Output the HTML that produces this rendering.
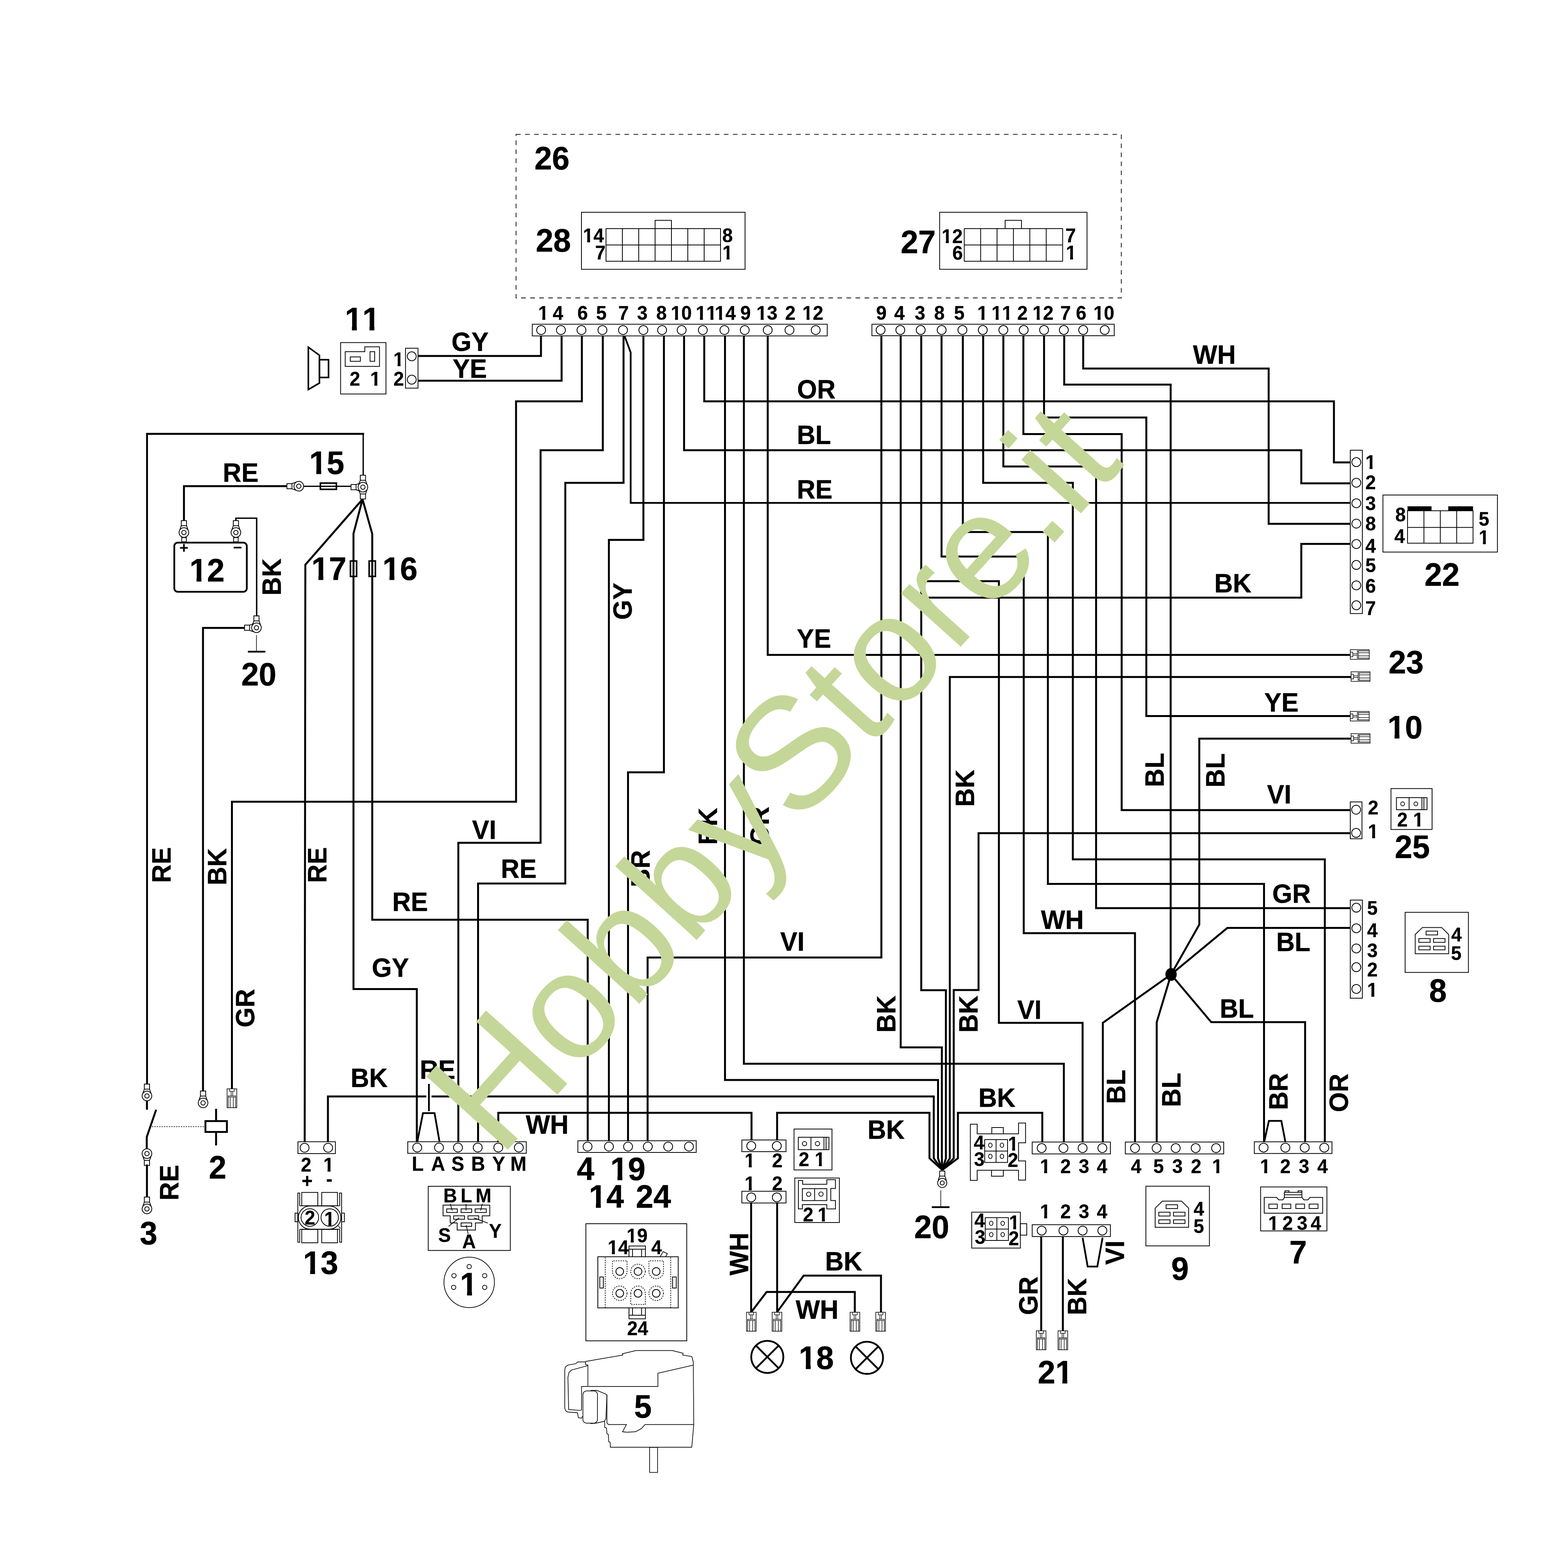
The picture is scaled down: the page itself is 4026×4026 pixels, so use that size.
<!DOCTYPE html>
<html lang="it"><head><meta charset="utf-8"><title>Schema elettrico</title>
<style>
html,body{margin:0;padding:0;background:#fff}
body{width:4026px;height:4026px;overflow:hidden}
svg{display:block}
.w{fill:none;stroke:#000;stroke-width:5;stroke-linejoin:miter;stroke-linecap:butt}
.t{fill:none;stroke:#000;stroke-width:2;stroke-linejoin:miter}
text{font-family:"Liberation Sans",Arial,Helvetica,sans-serif;font-weight:700;font-kerning:none;fill:#000;stroke:#000;stroke-width:0.8;stroke-linejoin:round}
.wm{font-weight:400;fill:#c4d798;stroke:none}
</style></head><body>
<svg width="4026" height="4026" viewBox="0 0 4026 4026">
<defs><clipPath id="k11"><path d="M0 -90H55.6V-13H37.9V6H22.4V-13H0ZM55.6 -90H111.2V-13H93.5V6H78V-13H55.6Z"/></clipPath><clipPath id="k15"><path d="M0 -90H55.6V-13H37.9V6H22.4V-13H0ZM55.6 -90H111.2V30H55.6Z"/></clipPath><clipPath id="k12"><path d="M0 -90H55.6V-13H37.9V6H22.4V-13H0ZM55.6 -90H111.2V30H55.6Z"/></clipPath><clipPath id="k17"><path d="M0 -90H55.6V-13H37.9V6H22.4V-13H0ZM55.6 -90H111.2V30H55.6Z"/></clipPath><clipPath id="k16"><path d="M0 -90H55.6V-13H37.9V6H22.4V-13H0ZM55.6 -90H111.2V30H55.6Z"/></clipPath><clipPath id="k10"><path d="M0 -90H55.6V-13H37.9V6H22.4V-13H0ZM55.6 -90H111.2V30H55.6Z"/></clipPath><clipPath id="k21"><path d="M0 -90H55.6V30H0ZM55.6 -90H111.2V-13H93.5V6H78V-13H55.6Z"/></clipPath><clipPath id="k18"><path d="M0 -90H55.6V-13H37.9V6H22.4V-13H0ZM55.6 -90H111.2V30H55.6Z"/></clipPath><clipPath id="k19"><path d="M0 -90H55.6V-13H37.9V6H22.4V-13H0ZM55.6 -90H111.2V30H55.6Z"/></clipPath><clipPath id="k14"><path d="M0 -90H55.6V-13H37.9V6H22.4V-13H0ZM55.6 -90H111.2V30H55.6Z"/></clipPath><clipPath id="k13"><path d="M0 -90H55.6V-13H37.9V6H22.4V-13H0ZM55.6 -90H111.2V30H55.6Z"/></clipPath><clipPath id="k1"><path d="M0 -90H55.6V-13H37.9V6H22.4V-13H0Z"/></clipPath></defs>
<rect width="4026" height="4026" fill="#fff"/>
<g id="wires">
<polyline class="w" points="1389,862.5 1389,914 1073.3,914"/>
<polyline class="w" points="1442,862.5 1442,977.5 1073.3,977.5"/>
<polyline class="w" points="1494,862.5 1494,1030.4 1325,1030.4 1325,2058.5 595.5,2058.5 595.5,2796"/>
<polyline class="w" points="1547.8,862.5 1547.8,1155.9 1388,1155.9 1388,2164 1176.8,2164 1176.8,2931.5"/>
<polyline class="w" points="1601,862.5 1601,1239.8 1451.5,1239.8 1451.5,2268.5 1227.5,2268.5 1227.5,2931.5"/>
<polyline class="w" points="1603.5,862.5 1619.3,905 1619.3,1291.3 3467,1291.3" style="stroke-width:4.5"/>
<polyline class="w" points="1652,862.5 1652,1386.2 1563.4,1386.2 1563.4,2929"/>
<polyline class="w" points="1704.7,862.5 1704.7,1983 1612.5,1983 1612.5,2929"/>
<polyline class="w" points="1756.4,862.5 1756.4,1155.9 3341.2,1155.9 3341.2,1241 3467,1241"/>
<polyline class="w" points="1808.2,862.5 1808.2,1030.4 3425,1030.4 3425,1187.2 3467,1187.2"/>
<polyline class="w" points="1861.5,862.5 1861.5,2773 2408.5,2773 2408.5,2974 2419.3,3004"/>
<polyline class="w" points="1910,862.5 1910,2731.3 2731.5,2731.3 2731.5,2932.3"/>
<polyline class="w" points="1971.2,862.5 1971.2,1681.5 3467,1681.5"/>
<polyline class="w" points="2263,862 2263,2458.5 1662.8,2458.5 1662.8,2929"/>
<polyline class="w" points="2312.6,862 2312.6,2689.3 2418.3,2689.3 2418.3,2974 2419.3,3004"/>
<polyline class="w" points="2365.4,862 2365.4,2542.5 2428.7,2542.5 2428.7,2974 2419.3,3004"/>
<polyline class="w" points="2417.5,862 2417.5,1429 2628.5,1429 2628.5,2395.9 2914.2,2395.9 2914.2,2932.3"/>
<polyline class="w" points="2472.2,862 2472.2,1366 2690.5,1366 2690.5,2269.5 3245.5,2269.5 3245.5,2931.7"/>
<polyline class="w" points="2524.4,862 2524.4,1239.8 2754.6,1239.8 2754.6,2206.4 3401.6,2206.4 3401.6,2931.7"/>
<polyline class="w" points="2576.2,862 2576.2,1197.8 2814.3,1197.8 2814.3,2331.8 3467,2331.8"/>
<polyline class="w" points="2627.6,862 2627.6,1114.5 2880,1114.5 2880,2080 3467,2080"/>
<polyline class="w" points="2680.7,862 2680.7,1072 2943.3,1072 2943.3,1838.5 3467,1838.5"/>
<polyline class="w" points="2732.5,862 2732.5,987.6 3005.8,987.6 3005.8,2502"/>
<polyline class="w" points="2781.2,862 2781.2,946.3 3257.4,946.3 3257.4,1345 3467,1345"/>
<polyline class="w" points="2365.4,1534.5 3341.2,1534.5 3341.2,1396.5 3467,1396.5"/>
<polyline class="w" points="2365.4,1492.3 2564.8,1492.3 2564.8,2626.2 2779.7,2626.2 2779.7,2932.3"/>
<polyline class="w" points="3469,1738.2 2438.7,1738.2 2438.7,2974 2419.3,3004"/>
<polyline class="w" points="3467,2139.3 2512.5,2139.3 2512.5,2542 2448.8,2542 2448.8,2974 2419.3,3004"/>
<polyline class="w" points="3469,1896.4 3079.3,1896.4 3079.3,2374 3006.8,2502"/>
<polyline class="w" points="3006.8,2502 3151.3,2382.6 3467,2382.6"/>
<polyline class="w" points="3006.8,2502 3110,2624.6 3351,2624.6 3351,2931.7"/>
<polyline class="w" points="3006.8,2502 2970,2624.6 2970,2932.3"/>
<polyline class="w" points="3006.8,2502 2831.6,2626.2 2831.6,2932.3"/>
<ellipse cx="3006.8" cy="2502" rx="14.5" ry="16.5" fill="#000"/>
<polyline class="w" points="2676.2,2932.3 2676.2,2857.3 2459.5,2857.3 2459.5,2974 2419.3,3004"/>
<polyline class="w" points="842,2931.5 842,2815.3 2397.5,2815.3 2397.5,2974 2419.3,3004"/>
<polyline class="w" points="1995.3,2927 1995.3,2857.3 2386.5,2857.3 2386.5,2974 2419.3,3004"/>
<polyline class="w" points="1279.4,2931.5 1279.4,2857.3 1929.6,2857.3 1929.6,2927"/>
<polyline class="w" points="932.6,1116.5 932.6,1114 377.5,1114 377.5,2784" style="stroke-width:4.8"/>
<polyline class="w" points="932.6,1114 932.6,1220" style="stroke-width:3.4"/>
<polyline class="w" points="472.3,1337 472.3,1248.2 737,1248.2"/>
<polyline class="w" points="779.6,1248.6 900.5,1248.6" style="stroke-width:3.2"/>
<polyline class="w" points="605.7,1337 605.7,1330.5 659,1330.5 659,1582.5" style="stroke-width:3.6"/>
<polyline class="w" points="628,1612.3 521.2,1612.3 521.2,2802.5"/>
<polyline class="w" points="930.8,1282 784,1450 782.3,2931.5"/>
<polyline class="w" points="930.8,1282 907.6,1370 907.6,2539.6 1070.2,2539.6 1070.2,2931.5"/>
<polyline class="w" points="930.8,1282 955.8,1371 955.8,2361.5 1509,2361.5 1509,2929"/>
<polyline class="w" points="1071.5,2931.5 1086,2858 1115.8,2858 1128.5,2931.5" style="stroke-width:4.5"/>
<line x1="1101.3" y1="2810.5" x2="1101.3" y2="2820.5" stroke="#fff" stroke-width="13.5"/>
<polyline class="w" points="1101.3,2783 1101.3,2853" style="stroke-width:4.5" stroke-linecap="round"/>
<polyline class="w" points="3246,2931.7 3258,2878 3290,2878 3300.3,2931.7" style="stroke-width:4.5"/>
<polyline class="w" points="2779.7,3178 2792.7,3252 2817.5,3252 2831,3178" style="stroke-width:4.5" stroke-linecap="round" stroke-linejoin="round"/>
<polyline class="w" points="2673.4,3175 2673.4,3417"/>
<polyline class="w" points="2729,3175 2729,3417"/>
<polyline class="w" points="1928.6,3088.8 1928.6,3369.4"/>
<polyline class="w" points="1995.4,3088.8 1995.4,3369.4"/>
<polyline class="w" points="1929.3,3368.4 1968.3,3317.2 2194.8,3317.2 2194.8,3369.4"/>
<polyline class="w" points="1995.6,3368.4 2063.5,3275.2 2262,3275.2 2262,3369.4"/>
<polyline class="w" points="377.3,2826.5 377.3,2849.3" stroke-linecap="round"/>
<polyline class="w" points="400.9,2849.3 376.8,2919.5 376.8,2949" stroke-linecap="round"/>
<polyline class="w" points="377.3,2990 377.3,3074"/>
<polyline class="w" points="554.8,2847 554.8,2876" stroke-linecap="round"/>
<polyline class="w" points="554.8,2909 554.8,2941" stroke-linecap="round"/>
<rect class="t" x="527.5" y="2878.5" width="55.1" height="27.9" style="stroke-width:4.8"/>
<line x1="390" y1="2892.8" x2="525" y2="2892.8" stroke="#000" stroke-width="1.6" stroke-dasharray="3.6,2.6"/>
<rect x="1325" y="344.8" width="1554" height="420.2" fill="none" stroke="#000" stroke-width="1.8" stroke-dasharray="11.8,11.4"/>
<rect class="t" x="1493" y="545" width="420" height="146.5"/>
<rect class="t" x="1556" y="587" width="294" height="83.8"/>
<polyline class="t" points="1556,628.9 1850,628.9"/>
<polyline class="t" points="1598,587 1598,670.8"/>
<polyline class="t" points="1640,587 1640,670.8"/>
<polyline class="t" points="1682,587 1682,670.8"/>
<polyline class="t" points="1724,587 1724,670.8"/>
<polyline class="t" points="1766,587 1766,670.8"/>
<polyline class="t" points="1808,587 1808,670.8"/>
<polyline class="t" points="1682,587 1682,565.7 1724,565.7 1724,587"/>
<rect class="t" x="2412.6" y="545" width="378.4" height="146.5"/>
<rect class="t" x="2475.8" y="587" width="252.6" height="83.8"/>
<polyline class="t" points="2475.8,628.9 2728.4,628.9"/>
<polyline class="t" points="2517.9,587 2517.9,670.8"/>
<polyline class="t" points="2560,587 2560,670.8"/>
<polyline class="t" points="2602.1,587 2602.1,670.8"/>
<polyline class="t" points="2644.2,587 2644.2,670.8"/>
<polyline class="t" points="2686.3,587 2686.3,670.8"/>
<polyline class="t" points="2580.8,587 2580.8,565.7 2622.8,565.7 2622.8,587"/>
<rect class="t" x="1366.7" y="832.5" width="757.3" height="30"/>
<circle class="t" cx="1389.4" cy="847.5" r="11.5"/>
<circle class="t" cx="1440.2" cy="847.5" r="11.5"/>
<circle class="t" cx="1493" cy="847.5" r="11.5"/>
<circle class="t" cx="1546.8" cy="847.5" r="11.5"/>
<circle class="t" cx="1599.6" cy="847.5" r="11.5"/>
<circle class="t" cx="1651.9" cy="847.5" r="11.5"/>
<circle class="t" cx="1700" cy="847.5" r="11.5"/>
<circle class="t" cx="1750.2" cy="847.5" r="11.5"/>
<circle class="t" cx="1804.6" cy="847.5" r="11.5"/>
<circle class="t" cx="1860" cy="847.5" r="11.5"/>
<circle class="t" cx="1912.2" cy="847.5" r="11.5"/>
<circle class="t" cx="1971.2" cy="847.5" r="11.5"/>
<circle class="t" cx="2027.1" cy="847.5" r="11.5"/>
<circle class="t" cx="2094.4" cy="847.5" r="11.5"/>
<rect class="t" x="2238.7" y="832.5" width="622.2" height="29.5"/>
<circle class="t" cx="2261" cy="847.3" r="11.5"/>
<circle class="t" cx="2311.7" cy="847.3" r="11.5"/>
<circle class="t" cx="2364" cy="847.3" r="11.5"/>
<circle class="t" cx="2417.8" cy="847.3" r="11.5"/>
<circle class="t" cx="2471.1" cy="847.3" r="11.5"/>
<circle class="t" cx="2523.4" cy="847.3" r="11.5"/>
<circle class="t" cx="2576.2" cy="847.3" r="11.5"/>
<circle class="t" cx="2628.5" cy="847.3" r="11.5"/>
<circle class="t" cx="2680.7" cy="847.3" r="11.5"/>
<circle class="t" cx="2731.5" cy="847.3" r="11.5"/>
<circle class="t" cx="2781.2" cy="847.3" r="11.5"/>
<circle class="t" cx="2836.5" cy="847.3" r="11.5"/>
<rect class="t" x="3467" y="1156" width="31" height="419.4"/>
<circle class="t" cx="3482.5" cy="1186.6" r="11.5"/>
<circle class="t" cx="3482.5" cy="1239.4" r="11.5"/>
<circle class="t" cx="3482.5" cy="1292.2" r="11.5"/>
<circle class="t" cx="3482.5" cy="1344.5" r="11.5"/>
<circle class="t" cx="3482.5" cy="1396.8" r="11.5"/>
<circle class="t" cx="3482.5" cy="1450.6" r="11.5"/>
<circle class="t" cx="3482.5" cy="1502.9" r="11.5"/>
<circle class="t" cx="3482.5" cy="1554.1" r="11.5"/>
<rect class="t" x="3467" y="2059" width="30" height="94.6"/>
<circle class="t" cx="3482" cy="2079" r="11.5"/>
<circle class="t" cx="3482" cy="2138.6" r="11.5"/>
<rect class="t" x="3467" y="2311" width="31" height="252"/>
<circle class="t" cx="3482.5" cy="2330.6" r="11.5"/>
<circle class="t" cx="3482.5" cy="2383.4" r="11.5"/>
<circle class="t" cx="3482.5" cy="2435.2" r="11.5"/>
<circle class="t" cx="3482.5" cy="2483.3" r="11.5"/>
<circle class="t" cx="3482.5" cy="2539.2" r="11.5"/>
<rect class="t" x="765" y="2931.5" width="96.2" height="30.5"/>
<circle class="t" cx="782" cy="2947" r="11.5"/>
<circle class="t" cx="842.5" cy="2947" r="11.5"/>
<rect class="t" x="1047" y="2931.5" width="304.3" height="29.8"/>
<circle class="t" cx="1071.3" cy="2946.5" r="11.5"/>
<circle class="t" cx="1127.2" cy="2946.5" r="11.5"/>
<circle class="t" cx="1175.9" cy="2946.5" r="11.5"/>
<circle class="t" cx="1226.6" cy="2946.5" r="11.5"/>
<circle class="t" cx="1279.4" cy="2946.5" r="11.5"/>
<circle class="t" cx="1332.2" cy="2946.5" r="11.5"/>
<rect class="t" x="1483.7" y="2929" width="303.9" height="30"/>
<circle class="t" cx="1508.6" cy="2944" r="11.5"/>
<circle class="t" cx="1563.5" cy="2944" r="11.5"/>
<circle class="t" cx="1612.6" cy="2944" r="11.5"/>
<circle class="t" cx="1663.4" cy="2944" r="11.5"/>
<circle class="t" cx="1715.6" cy="2944" r="11.5"/>
<circle class="t" cx="1769" cy="2944" r="11.5"/>
<rect class="t" x="1904.8" y="2927" width="113.4" height="30"/>
<circle class="t" cx="1928.9" cy="2942.3" r="11.5"/>
<circle class="t" cx="1994.6" cy="2942.3" r="11.5"/>
<rect class="t" x="1904.8" y="3058.7" width="113.4" height="30.1"/>
<circle class="t" cx="1928.9" cy="3074.4" r="11.5"/>
<circle class="t" cx="1994.6" cy="3074.4" r="11.5"/>
<rect class="t" x="2650.3" y="2932.3" width="200.7" height="30.5"/>
<circle class="t" cx="2674.6" cy="2947.8" r="11.5"/>
<circle class="t" cx="2730.5" cy="2947.8" r="11.5"/>
<circle class="t" cx="2779.7" cy="2947.8" r="11.5"/>
<circle class="t" cx="2830.4" cy="2947.8" r="11.5"/>
<rect class="t" x="2650.3" y="3144.5" width="200.7" height="30.5"/>
<circle class="t" cx="2674.6" cy="3159.7" r="11.5"/>
<circle class="t" cx="2730.5" cy="3159.7" r="11.5"/>
<circle class="t" cx="2779.7" cy="3159.7" r="11.5"/>
<circle class="t" cx="2830.4" cy="3159.7" r="11.5"/>
<rect class="t" x="2889.4" y="2932.3" width="252.6" height="30.5"/>
<circle class="t" cx="2914.3" cy="2947.8" r="11.5"/>
<circle class="t" cx="2969.7" cy="2947.8" r="11.5"/>
<circle class="t" cx="3018.8" cy="2947.8" r="11.5"/>
<circle class="t" cx="3070" cy="2947.8" r="11.5"/>
<circle class="t" cx="3122.4" cy="2947.8" r="11.5"/>
<rect class="t" x="3220.6" y="2931.7" width="199.4" height="30"/>
<circle class="t" cx="3244.4" cy="2946.7" r="11.5"/>
<circle class="t" cx="3300.3" cy="2946.7" r="11.5"/>
<circle class="t" cx="3350" cy="2946.7" r="11.5"/>
<circle class="t" cx="3400.2" cy="2946.7" r="11.5"/>
<rect class="t" x="1041.2" y="894.1" width="32.1" height="102.5"/>
<circle class="t" cx="1057.2" cy="914.8" r="11.5"/>
<circle class="t" cx="1057.2" cy="974.8" r="11.5"/>
<rect class="t" x="874.5" y="879.6" width="116.5" height="132"/>
<polygon class="t" points="886.4,902.9 936.6,902.9 936.6,890.5 974.4,890.5 974.4,940.7 886.4,940.7"/>
<rect class="t" x="899.4" y="916.4" width="25.9" height="11.3"/>
<rect class="t" x="950.1" y="902.9" width="11.9" height="24.8"/>
<polygon class="t" points="791.7,891.5 820.2,912.2 820.2,983.6 791.7,1000.2" style="stroke-width:4"/>
<rect class="t" x="820.2" y="923.6" width="23.3" height="45.6" style="stroke-width:4"/>
<rect class="t" x="3550.8" y="1271" width="294" height="146.5"/>
<rect class="t" x="3614" y="1311.4" width="168.2" height="83.3"/>
<polyline class="t" points="3614,1354.3 3782.2,1354.3"/>
<polyline class="t" points="3656.1,1311.4 3656.1,1394.7"/>
<polyline class="t" points="3698.1,1311.4 3698.1,1394.7"/>
<polyline class="t" points="3740.2,1311.4 3740.2,1394.7"/>
<rect x="3614" y="1300" width="61.6" height="11.4" fill="#000"/>
<rect x="3718.5" y="1300" width="63.7" height="11.4" fill="#000"/>
<rect class="t" x="3467" y="1668.2" width="48.6" height="24.6" style="stroke-width:1.6" fill="#fff"/>
<polyline class="t" points="3467,1674.5 3473.5,1674.5 3473.5,1686.5 3467,1686.5" style="stroke-width:1.4"/>
<polyline class="t" points="3473.5,1678.5 3485,1678.5" style="stroke-width:1.4"/>
<polyline class="t" points="3473.5,1682.5 3485,1682.5" style="stroke-width:1.4"/>
<polyline class="t" points="3515.6,1671.2 3485,1671.2 3485,1689.8 3515.6,1689.8" style="stroke-width:1.4"/>
<polyline class="t" points="3488,1671.2 3488,1689.8" style="stroke-width:1.4"/>
<polyline class="t" points="3488,1676 3515.6,1676" style="stroke-width:1.4"/>
<polyline class="t" points="3488,1684 3515.6,1684" style="stroke-width:1.4"/>
<rect class="t" x="3467" y="1826.7" width="48.6" height="24.6" style="stroke-width:1.6" fill="#fff"/>
<polyline class="t" points="3467,1833 3473.5,1833 3473.5,1845 3467,1845" style="stroke-width:1.4"/>
<polyline class="t" points="3473.5,1837 3485,1837" style="stroke-width:1.4"/>
<polyline class="t" points="3473.5,1841 3485,1841" style="stroke-width:1.4"/>
<polyline class="t" points="3515.6,1829.7 3485,1829.7 3485,1848.3 3515.6,1848.3" style="stroke-width:1.4"/>
<polyline class="t" points="3488,1829.7 3488,1848.3" style="stroke-width:1.4"/>
<polyline class="t" points="3488,1834.5 3515.6,1834.5" style="stroke-width:1.4"/>
<polyline class="t" points="3488,1842.5 3515.6,1842.5" style="stroke-width:1.4"/>
<rect class="t" x="3469" y="1724.9" width="48.6" height="24.6" style="stroke-width:1.6" fill="#fff"/>
<polyline class="t" points="3469,1731.2 3475.5,1731.2 3475.5,1743.2 3469,1743.2" style="stroke-width:1.4"/>
<polyline class="t" points="3475.5,1735.2 3487,1735.2" style="stroke-width:1.4"/>
<polyline class="t" points="3475.5,1739.2 3487,1739.2" style="stroke-width:1.4"/>
<polyline class="t" points="3517.6,1727.9 3487,1727.9 3487,1746.5 3517.6,1746.5" style="stroke-width:1.4"/>
<polyline class="t" points="3490,1727.9 3490,1746.5" style="stroke-width:1.4"/>
<polyline class="t" points="3490,1732.7 3517.6,1732.7" style="stroke-width:1.4"/>
<polyline class="t" points="3490,1740.7 3517.6,1740.7" style="stroke-width:1.4"/>
<rect class="t" x="3469" y="1883.7" width="48.6" height="24.6" style="stroke-width:1.6" fill="#fff"/>
<polyline class="t" points="3469,1890 3475.5,1890 3475.5,1902 3469,1902" style="stroke-width:1.4"/>
<polyline class="t" points="3475.5,1894 3487,1894" style="stroke-width:1.4"/>
<polyline class="t" points="3475.5,1898 3487,1898" style="stroke-width:1.4"/>
<polyline class="t" points="3517.6,1886.7 3487,1886.7 3487,1905.3 3517.6,1905.3" style="stroke-width:1.4"/>
<polyline class="t" points="3490,1886.7 3490,1905.3" style="stroke-width:1.4"/>
<polyline class="t" points="3490,1891.5 3517.6,1891.5" style="stroke-width:1.4"/>
<polyline class="t" points="3490,1899.5 3517.6,1899.5" style="stroke-width:1.4"/>
<rect class="t" x="3571.5" y="2024.7" width="105.5" height="105.1"/>
<rect class="t" x="3585.5" y="2048" width="78.5" height="31"/>
<polyline class="t" points="3618,2048 3618,2079"/>
<polyline class="t" points="3651,2048 3651,2079"/>
<polyline class="t" points="3656,2048 3656,2079"/>
<circle class="t" cx="3601.5" cy="2064" r="5" style="stroke-width:1.8"/>
<circle class="t" cx="3635.3" cy="2064" r="5" style="stroke-width:1.8"/>
<rect class="t" x="3607.8" y="2342.5" width="162.5" height="154.3"/>
<polygon class="t" points="3652.3,2381.4 3701.5,2381.4 3719.6,2399.5 3719.6,2448.7 3633.7,2448.7 3633.7,2399.5"/>
<rect class="t" x="3661.6" y="2390.7" width="29.5" height="9.8"/>
<rect class="t" x="3643" y="2409.8" width="29" height="9.8"/>
<rect class="t" x="3680.8" y="2409.8" width="29.5" height="9.8"/>
<rect class="t" x="3643" y="2429.5" width="29" height="9.3"/>
<rect class="t" x="3680.8" y="2429.5" width="29.5" height="9.3"/>
<rect class="t" x="2942.2" y="3045.7" width="163.1" height="153.2"/>
<polygon class="t" points="2984.6,3084 3033.8,3084 3051.9,3102.1 3051.9,3151.3 2966,3151.3 2966,3102.1"/>
<rect class="t" x="2994" y="3093.3" width="29.5" height="9.8"/>
<rect class="t" x="2975.3" y="3112.5" width="29" height="9.8"/>
<rect class="t" x="3013.1" y="3112.5" width="29.5" height="9.8"/>
<rect class="t" x="2975.3" y="3132.1" width="29" height="9.3"/>
<rect class="t" x="3013.1" y="3132.1" width="29.5" height="9.3"/>
<rect class="t" x="3236.7" y="3047.6" width="170.3" height="112.9"/>
<polygon class="t" points="3246,3074.5 3278.1,3074.5 3283.2,3080.7 3294.1,3080.7 3297.7,3074.5 3297.7,3061.6 3342.8,3061.6 3342.8,3074.5 3347.9,3080.7 3358.3,3080.7 3363.5,3074.5 3396.1,3074.5 3396.1,3114.9 3246,3114.9"/>
<polyline class="t" points="3299.3,3061.6 3299.3,3057.5 3309.6,3057.5 3309.6,3061.6"/>
<polyline class="t" points="3332.9,3061.6 3332.9,3057.5 3342.8,3057.5 3342.8,3061.6"/>
<polyline class="t" points="3297.7,3067.8 3342.8,3067.8"/>
<polyline class="t" points="3297.7,3074.5 3342.8,3074.5"/>
<rect class="t" x="3257.9" y="3091.6" width="21.7" height="11.4"/>
<rect class="t" x="3292" y="3091.6" width="22.3" height="11.4"/>
<rect class="t" x="3327.2" y="3091.6" width="22.3" height="11.4"/>
<rect class="t" x="3361.4" y="3091.6" width="22.8" height="11.4"/>
<rect class="t" x="2038.7" y="2898.9" width="97.5" height="105"/>
<rect class="t" x="2049.7" y="2920" width="78.7" height="31.9"/>
<polyline class="t" points="2082.2,2920 2082.2,2951.9"/>
<polyline class="t" points="2115.6,2920 2115.6,2951.9"/>
<polyline class="t" points="2121,2920 2121,2951.9"/>
<circle class="t" cx="2065.6" cy="2936.4" r="5.6" style="stroke-width:1.8"/>
<circle class="t" cx="2099" cy="2936.4" r="5.6" style="stroke-width:1.8"/>
<rect class="t" x="2040.7" y="3024.7" width="114.5" height="114.3"/>
<polygon class="t" points="2050,3030.9 2060.9,3030.9 2060.9,3040.7 2123,3040.7 2123,3029.1 2145.1,3029.1 2145.1,3051.6 2133.1,3051.6 2133.1,3082.6 2145.1,3082.6 2145.1,3103.9 2123,3103.9 2123,3093 2060.1,3093 2060.1,3103.9 2050,3103.9"/>
<rect class="t" x="2060.1" y="3052" width="62.9" height="30.6"/>
<polyline class="t" points="2091.6,3052 2091.6,3082.6"/>
<circle class="t" cx="2076.4" cy="3066.3" r="5.6" style="stroke-width:1.8"/>
<circle class="t" cx="2108" cy="3066" r="5.6" style="stroke-width:1.8"/>
<polygon class="t" points="2491.5,2886.4 2509,2886.4 2509,2911.3 2615.2,2911.3 2615.2,2883.6 2633.2,2883.6 2633.2,2934.2 2615.2,2934.2 2615.2,2980.7 2633.2,2980.7 2633.2,3030.1 2615.2,3030.1 2615.2,3004.7 2509,3004.7 2509,3030.8 2491.5,3030.8"/>
<polyline class="t" points="2546.5,2911.3 2546.5,2895 2576.1,2895 2576.1,2911.3"/>
<polyline class="t" points="2545.8,3004.7 2545.8,3019.9 2576.1,3019.9 2576.1,3004.7"/>
<rect class="t" x="2528.3" y="2926" width="58.7" height="58.7"/>
<polyline class="t" points="2557.5,2926 2557.5,2984.7"/>
<polyline class="t" points="2528.3,2955.6 2587,2955.6"/>
<ellipse class="t" cx="2542.8" cy="2940.5" rx="4.6" ry="5.6" style="stroke-width:1.8"/>
<ellipse class="t" cx="2572.6" cy="2940.5" rx="4.6" ry="5.6" style="stroke-width:1.8"/>
<ellipse class="t" cx="2542.8" cy="2969.1" rx="4.6" ry="5.6" style="stroke-width:1.8"/>
<ellipse class="t" cx="2572.6" cy="2969.1" rx="4.6" ry="5.6" style="stroke-width:1.8"/>
<rect class="t" x="2495" y="3112.4" width="124.8" height="92.2"/>
<rect class="t" x="2619.8" y="3142" width="16.5" height="29.4"/>
<rect class="t" x="2529.7" y="3126.4" width="59.5" height="58.6"/>
<polyline class="t" points="2559.5,3126.4 2559.5,3185"/>
<polyline class="t" points="2529.7,3155.7 2589.2,3155.7"/>
<ellipse class="t" cx="2545" cy="3141" rx="4.6" ry="5.6" style="stroke-width:1.8"/>
<ellipse class="t" cx="2574.5" cy="3141" rx="4.6" ry="5.6" style="stroke-width:1.8"/>
<ellipse class="t" cx="2545" cy="3170" rx="4.6" ry="5.6" style="stroke-width:1.8"/>
<ellipse class="t" cx="2574.5" cy="3170" rx="4.6" ry="5.6" style="stroke-width:1.8"/>
<polygon class="t" points="2412.6,3006.8 2426,3006.8 2426,3019.8 2412.6,3019.8" fill="#fff"/>
<polyline class="t" points="2412.6,3019.8 2408.8,3030.3"/>
<polyline class="t" points="2426,3019.8 2429.8,3030.3"/>
<circle class="t" cx="2419.3" cy="3037.3" r="11.8" fill="#fff"/>
<circle class="t" cx="2419.3" cy="3037.3" r="5.2"/>
<polyline class="t" points="2415.5,3056.5 2415.5,3098" style="stroke-width:1.6"/>
<polyline class="w" points="2392.5,3099.5 2438,3099.5" style="stroke-width:4.5"/>
<polygon class="t" points="651.8,1581.3 665.2,1581.3 665.2,1594.3 651.8,1594.3" fill="#fff"/>
<polyline class="t" points="651.8,1594.3 648,1604.8"/>
<polyline class="t" points="665.2,1594.3 669,1604.8"/>
<polygon class="t" points="628,1618.5 628,1605.1 641,1605.1 641,1618.5" fill="#fff"/>
<polyline class="t" points="641,1618.5 651.5,1622.3"/>
<polyline class="t" points="641,1605.1 651.5,1601.3"/>
<circle class="t" cx="658.5" cy="1611.8" r="12.4" fill="#fff"/>
<circle class="t" cx="658.5" cy="1611.8" r="5.6"/>
<polyline class="t" points="658.5,1630.5 658.5,1671" style="stroke-width:1.6"/>
<polyline class="w" points="636.5,1673.2 681.5,1673.2" style="stroke-width:4.5"/>
<rect x="447.5" y="1393.2" width="186.2" height="126.4" rx="9" ry="9" fill="none" stroke="#000" stroke-width="4.5"/>
<rect class="t" x="466.6" y="1380.3" width="11.8" height="10.9"/>
<rect class="t" x="599.8" y="1380.3" width="11.8" height="10.9"/>
<polygon class="t" points="465.5,1336.8 478.9,1336.8 478.9,1349.8 465.5,1349.8" fill="#fff"/>
<polyline class="t" points="465.5,1349.8 461.7,1360.3"/>
<polyline class="t" points="478.9,1349.8 482.7,1360.3"/>
<circle class="t" cx="472.2" cy="1367.3" r="12.4" fill="#fff"/>
<circle class="t" cx="472.2" cy="1367.3" r="5.6"/>
<polygon class="t" points="599,1336.8 612.4,1336.8 612.4,1349.8 599,1349.8" fill="#fff"/>
<polyline class="t" points="599,1349.8 595.2,1360.3"/>
<polyline class="t" points="612.4,1349.8 616.2,1360.3"/>
<circle class="t" cx="605.7" cy="1367.3" r="12.4" fill="#fff"/>
<circle class="t" cx="605.7" cy="1367.3" r="5.6"/>
<polyline class="w" points="462.3,1406.7 482.3,1406.7" style="stroke-width:4.2"/>
<polyline class="w" points="472.3,1396.7 472.3,1416.7" style="stroke-width:4.2"/>
<polyline class="w" points="600,1406 620,1406" style="stroke-width:4.2"/>
<polygon class="t" points="736.7,1255.1 736.7,1241.7 749.7,1241.7 749.7,1255.1" fill="#fff"/>
<polyline class="t" points="749.7,1255.1 760.2,1258.9"/>
<polyline class="t" points="749.7,1241.7 760.2,1237.9"/>
<circle class="t" cx="767.2" cy="1248.4" r="12.4" fill="#fff"/>
<circle class="t" cx="767.2" cy="1248.4" r="5.6"/>
<rect class="t" x="822.6" y="1240.4" width="41.1" height="16" style="stroke-width:4" fill="#fff"/>
<polyline class="w" points="822,1248.6 864,1248.6" style="stroke-width:2.4"/>
<polygon class="t" points="925.1,1220.3 938.5,1220.3 938.5,1233.3 925.1,1233.3" fill="#fff"/>
<polyline class="t" points="925.1,1233.3 921.3,1243.8"/>
<polyline class="t" points="938.5,1233.3 942.3,1243.8"/>
<polygon class="t" points="901.3,1257.5 901.3,1244.1 914.3,1244.1 914.3,1257.5" fill="#fff"/>
<polyline class="t" points="914.3,1257.5 924.8,1261.3"/>
<polyline class="t" points="914.3,1244.1 924.8,1240.3"/>
<polygon class="t" points="938.5,1281.3 925.1,1281.3 925.1,1268.3 938.5,1268.3" fill="#fff"/>
<polyline class="t" points="938.5,1268.3 942.3,1257.8"/>
<polyline class="t" points="925.1,1268.3 921.3,1257.8"/>
<circle class="t" cx="931.8" cy="1250.8" r="12.4" fill="#fff"/>
<circle class="t" cx="931.8" cy="1250.8" r="5.6"/>
<rect class="t" x="899.8" y="1440.4" width="15.8" height="39.6" style="stroke-width:4" fill="#fff"/>
<polyline class="w" points="907.6,1440 907.6,1481" style="stroke-width:2.4"/>
<rect class="t" x="947.8" y="1440.4" width="16" height="39.6" style="stroke-width:4" fill="#fff"/>
<polyline class="w" points="955.8,1440 955.8,1481" style="stroke-width:2.4"/>
<polygon class="t" points="370.6,2783.5 384,2783.5 384,2796.5 370.6,2796.5" fill="#fff"/>
<polyline class="t" points="370.6,2796.5 366.8,2807"/>
<polyline class="t" points="384,2796.5 387.8,2807"/>
<circle class="t" cx="377.3" cy="2814" r="12.4" fill="#fff"/>
<circle class="t" cx="377.3" cy="2814" r="5.6"/>
<polygon class="t" points="384,2992.4 370.6,2992.4 370.6,2979.4 384,2979.4" fill="#fff"/>
<polyline class="t" points="384,2979.4 387.8,2968.9"/>
<polyline class="t" points="370.6,2979.4 366.8,2968.9"/>
<circle class="t" cx="377.3" cy="2961.9" r="12.4" fill="#fff"/>
<circle class="t" cx="377.3" cy="2961.9" r="5.6"/>
<polygon class="t" points="370.6,3073.5 384,3073.5 384,3086.5 370.6,3086.5" fill="#fff"/>
<polyline class="t" points="370.6,3086.5 366.8,3097"/>
<polyline class="t" points="384,3086.5 387.8,3097"/>
<circle class="t" cx="377.3" cy="3104" r="12.4" fill="#fff"/>
<circle class="t" cx="377.3" cy="3104" r="5.6"/>
<polygon class="t" points="514.7,2801.3 528.1,2801.3 528.1,2814.3 514.7,2814.3" fill="#fff"/>
<polyline class="t" points="514.7,2814.3 510.9,2824.8"/>
<polyline class="t" points="528.1,2814.3 531.9,2824.8"/>
<circle class="t" cx="521.4" cy="2831.8" r="12.4" fill="#fff"/>
<circle class="t" cx="521.4" cy="2831.8" r="5.6"/>
<rect class="t" x="583.1" y="2795.6" width="24.8" height="48.6" style="stroke-width:1.6" fill="#fff"/>
<polyline class="t" points="589.5,2795.6 589.5,2802.1 601.5,2802.1 601.5,2795.6" style="stroke-width:1.4"/>
<polyline class="t" points="593.5,2802.1 593.5,2813.6" style="stroke-width:1.4"/>
<polyline class="t" points="597.5,2802.1 597.5,2813.6" style="stroke-width:1.4"/>
<polyline class="t" points="586.1,2844.2 586.1,2813.6 604.9,2813.6 604.9,2844.2" style="stroke-width:1.4"/>
<polyline class="t" points="586.1,2816.6 604.9,2816.6" style="stroke-width:1.4"/>
<polyline class="t" points="591,2816.6 591,2844.2" style="stroke-width:1.4"/>
<polyline class="t" points="599,2816.6 599,2844.2" style="stroke-width:1.4"/>
<rect class="t" x="2660.8" y="3417" width="24.8" height="48.6" style="stroke-width:1.6" fill="#fff"/>
<polyline class="t" points="2667.2,3417 2667.2,3423.5 2679.2,3423.5 2679.2,3417" style="stroke-width:1.4"/>
<polyline class="t" points="2671.2,3423.5 2671.2,3435" style="stroke-width:1.4"/>
<polyline class="t" points="2675.2,3423.5 2675.2,3435" style="stroke-width:1.4"/>
<polyline class="t" points="2663.8,3465.6 2663.8,3435 2682.6,3435 2682.6,3465.6" style="stroke-width:1.4"/>
<polyline class="t" points="2663.8,3438 2682.6,3438" style="stroke-width:1.4"/>
<polyline class="t" points="2668.7,3438 2668.7,3465.6" style="stroke-width:1.4"/>
<polyline class="t" points="2676.7,3438 2676.7,3465.6" style="stroke-width:1.4"/>
<rect class="t" x="2716.6" y="3417" width="24.8" height="48.6" style="stroke-width:1.6" fill="#fff"/>
<polyline class="t" points="2723,3417 2723,3423.5 2735,3423.5 2735,3417" style="stroke-width:1.4"/>
<polyline class="t" points="2727,3423.5 2727,3435" style="stroke-width:1.4"/>
<polyline class="t" points="2731,3423.5 2731,3435" style="stroke-width:1.4"/>
<polyline class="t" points="2719.6,3465.6 2719.6,3435 2738.4,3435 2738.4,3465.6" style="stroke-width:1.4"/>
<polyline class="t" points="2719.6,3438 2738.4,3438" style="stroke-width:1.4"/>
<polyline class="t" points="2724.5,3438 2724.5,3465.6" style="stroke-width:1.4"/>
<polyline class="t" points="2732.5,3438 2732.5,3465.6" style="stroke-width:1.4"/>
<rect class="t" x="1916.7" y="3369.4" width="24.8" height="48.6" style="stroke-width:1.6" fill="#fff"/>
<polyline class="t" points="1923.1,3369.4 1923.1,3375.9 1935.1,3375.9 1935.1,3369.4" style="stroke-width:1.4"/>
<polyline class="t" points="1927.1,3375.9 1927.1,3387.4" style="stroke-width:1.4"/>
<polyline class="t" points="1931.1,3375.9 1931.1,3387.4" style="stroke-width:1.4"/>
<polyline class="t" points="1919.7,3418 1919.7,3387.4 1938.5,3387.4 1938.5,3418" style="stroke-width:1.4"/>
<polyline class="t" points="1919.7,3390.4 1938.5,3390.4" style="stroke-width:1.4"/>
<polyline class="t" points="1924.6,3390.4 1924.6,3418" style="stroke-width:1.4"/>
<polyline class="t" points="1932.6,3390.4 1932.6,3418" style="stroke-width:1.4"/>
<rect class="t" x="1982.6" y="3369.4" width="24.8" height="48.6" style="stroke-width:1.6" fill="#fff"/>
<polyline class="t" points="1989,3369.4 1989,3375.9 2001,3375.9 2001,3369.4" style="stroke-width:1.4"/>
<polyline class="t" points="1993,3375.9 1993,3387.4" style="stroke-width:1.4"/>
<polyline class="t" points="1997,3375.9 1997,3387.4" style="stroke-width:1.4"/>
<polyline class="t" points="1985.6,3418 1985.6,3387.4 2004.4,3387.4 2004.4,3418" style="stroke-width:1.4"/>
<polyline class="t" points="1985.6,3390.4 2004.4,3390.4" style="stroke-width:1.4"/>
<polyline class="t" points="1990.5,3390.4 1990.5,3418" style="stroke-width:1.4"/>
<polyline class="t" points="1998.5,3390.4 1998.5,3418" style="stroke-width:1.4"/>
<rect class="t" x="2182.7" y="3369.4" width="24.8" height="48.6" style="stroke-width:1.6" fill="#fff"/>
<polyline class="t" points="2189.1,3369.4 2189.1,3375.9 2201.1,3375.9 2201.1,3369.4" style="stroke-width:1.4"/>
<polyline class="t" points="2193.1,3375.9 2193.1,3387.4" style="stroke-width:1.4"/>
<polyline class="t" points="2197.1,3375.9 2197.1,3387.4" style="stroke-width:1.4"/>
<polyline class="t" points="2185.7,3418 2185.7,3387.4 2204.5,3387.4 2204.5,3418" style="stroke-width:1.4"/>
<polyline class="t" points="2185.7,3390.4 2204.5,3390.4" style="stroke-width:1.4"/>
<polyline class="t" points="2190.6,3390.4 2190.6,3418" style="stroke-width:1.4"/>
<polyline class="t" points="2198.6,3390.4 2198.6,3418" style="stroke-width:1.4"/>
<rect class="t" x="2248.7" y="3369.4" width="24.8" height="48.6" style="stroke-width:1.6" fill="#fff"/>
<polyline class="t" points="2255.1,3369.4 2255.1,3375.9 2267.1,3375.9 2267.1,3369.4" style="stroke-width:1.4"/>
<polyline class="t" points="2259.1,3375.9 2259.1,3387.4" style="stroke-width:1.4"/>
<polyline class="t" points="2263.1,3375.9 2263.1,3387.4" style="stroke-width:1.4"/>
<polyline class="t" points="2251.7,3418 2251.7,3387.4 2270.5,3387.4 2270.5,3418" style="stroke-width:1.4"/>
<polyline class="t" points="2251.7,3390.4 2270.5,3390.4" style="stroke-width:1.4"/>
<polyline class="t" points="2256.6,3390.4 2256.6,3418" style="stroke-width:1.4"/>
<polyline class="t" points="2264.6,3390.4 2264.6,3418" style="stroke-width:1.4"/>
<circle class="t" cx="1970.1" cy="3484" r="41.3" style="stroke-width:4.6"/>
<polyline class="w" points="1940.9,3454.8 1999.3,3513.2" style="stroke-width:4.6"/>
<polyline class="w" points="1940.9,3513.2 1999.3,3454.8" style="stroke-width:4.6"/>
<circle class="t" cx="2226" cy="3486.3" r="41.3" style="stroke-width:4.6"/>
<polyline class="w" points="2196.8,3457.1 2255.2,3515.5" style="stroke-width:4.6"/>
<polyline class="w" points="2196.8,3515.5 2255.2,3457.1" style="stroke-width:4.6"/>
<rect class="t" x="774.7" y="3061.7" width="41.3" height="34.2"/>
<rect class="t" x="826.1" y="3061.7" width="40.4" height="34.2"/>
<rect class="t" x="774.7" y="3156.4" width="41.3" height="34.6"/>
<rect class="t" x="826.1" y="3156.4" width="40.4" height="34.6"/>
<polyline class="t" points="769.4,3095.9 769.4,3063.3 764.7,3063.3 764.7,3189.5 769.4,3189.5 769.4,3156.4"/>
<polyline class="t" points="872.2,3095.9 872.2,3063.3 877.1,3063.3 877.1,3189.5 872.2,3189.5 872.2,3156.4"/>
<polyline class="t" points="769.4,3095.9 872.2,3095.9"/>
<polyline class="t" points="769.4,3156.4 872.2,3156.4"/>
<rect class="t" x="757.6" y="3114.8" width="7.1" height="22.2"/>
<rect class="t" x="877.1" y="3114.8" width="7.1" height="22.2"/>
<rect class="t" x="766.1" y="3096.6" width="109.2" height="59.3" rx="29.7" ry="29.7"/>
<circle class="t" cx="795.6" cy="3126.1" r="22.6"/>
<circle class="t" cx="846.6" cy="3126.1" r="22.4"/>
<polyline class="t" points="867.5,3146.3 873.7,3153.3 871.4,3154.1" style="stroke-width:1.6"/>
<rect class="t" x="1099.6" y="3045.9" width="210.7" height="164.8"/>
<polygon class="t" points="1137.6,3094.2 1257.5,3094.2 1257.5,3121.7 1238.1,3121.7 1238.1,3139.9 1220.7,3139.9 1220.7,3158.2 1173.8,3158.2 1173.8,3139.9 1156,3139.9 1156,3121.7 1137.6,3121.7"/>
<rect class="t" x="1147" y="3103.9" width="27.2" height="9.3"/>
<rect class="t" x="1183.8" y="3103.9" width="27.3" height="9.3"/>
<rect class="t" x="1219.9" y="3103.9" width="28.7" height="9.3"/>
<rect class="t" x="1164.8" y="3121.7" width="28" height="8.9"/>
<rect class="t" x="1201.6" y="3121.7" width="27.6" height="8.9"/>
<rect class="t" x="1183.8" y="3139.9" width="27.3" height="9"/>
<polyline class="t" points="1156,3090.7 1161.2,3108.5" style="stroke-width:1.8"/>
<polyline class="t" points="1196.6,3090.7 1196.6,3108.5" style="stroke-width:1.8"/>
<polyline class="t" points="1238.1,3090.7 1233.9,3108.5" style="stroke-width:1.8"/>
<polyline class="t" points="1179.3,3126.8 1151.6,3148.9" style="stroke-width:1.8"/>
<polyline class="t" points="1216.8,3126.8 1252.5,3140.3" style="stroke-width:1.8"/>
<polyline class="t" points="1197,3145.5 1202.1,3168.3" style="stroke-width:1.8"/>
<circle class="t" cx="1204.7" cy="3292.6" r="64.8" style="stroke-width:1.8"/>
<circle class="t" cx="1204.7" cy="3252.1" r="5.6" style="stroke-width:1.8"/>
<circle class="t" cx="1165.6" cy="3275.4" r="5.6" style="stroke-width:1.8"/>
<circle class="t" cx="1244.5" cy="3275.4" r="5.6" style="stroke-width:1.8"/>
<circle class="t" cx="1164.8" cy="3305.4" r="5.6" style="stroke-width:1.8"/>
<circle class="t" cx="1244.5" cy="3305.4" r="5.6" style="stroke-width:1.8"/>
<rect class="t" x="1504.3" y="3142" width="259" height="300.7"/>
<rect class="t" x="1535" y="3226.8" width="206.4" height="131.3"/>
<polyline class="t" points="1615,3226.8 1615,3199.2 1657.2,3199.2 1657.2,3226.8"/>
<polyline class="t" points="1615,3207.5 1657.2,3207.5"/>
<polyline class="t" points="1624.1,3207.5 1624.1,3226.8"/>
<polyline class="t" points="1647.3,3207.5 1647.3,3226.8"/>
<polyline class="t" points="1615,3358.2 1615,3386.2 1657.2,3386.2 1657.2,3358.2"/>
<polyline class="t" points="1615,3377.1 1657.2,3377.1"/>
<polyline class="t" points="1624.1,3358.2 1624.1,3377.1"/>
<polyline class="t" points="1647.3,3358.2 1647.3,3377.1"/>
<rect class="t" x="1540" y="3278.7" width="9.1" height="28.5"/>
<rect class="t" x="1726.8" y="3278.7" width="9.6" height="28.5"/>
<polyline class="t" points="1554,3228.5 1554,3356.9" style="stroke-width:1.8" stroke-dasharray="3.2,2.8"/>
<polyline class="t" points="1722.2,3228.5 1722.2,3356.9" style="stroke-width:1.8" stroke-dasharray="3.2,2.8"/>
<circle class="t" cx="1591.3" cy="3264.6" r="9.9"/>
<circle class="t" cx="1591.3" cy="3320.7" r="9.9"/>
<circle class="t" cx="1638.2" cy="3264.6" r="9.9"/>
<circle class="t" cx="1638.2" cy="3320.7" r="9.9"/>
<circle class="t" cx="1684.9" cy="3264.6" r="9.9"/>
<circle class="t" cx="1684.9" cy="3320.7" r="9.9"/>
<path class="t" d="M1572.6 3264.6 L1572.6 3237.3 L1610 3237.3 L1610 3264.6 A18.7 18.7 0 0 1 1572.6 3264.6 Z" style="stroke-width:1.8" stroke-dasharray="3.2,2.8"/>
<path class="t" d="M1666.2 3264.6 L1666.2 3237.3 L1703.6 3237.3 L1703.6 3264.6 A18.7 18.7 0 0 1 1666.2 3264.6 Z" style="stroke-width:1.8" stroke-dasharray="3.2,2.8"/>
<circle class="t" cx="1638.2" cy="3264.6" r="18.7" style="stroke-width:1.8" stroke-dasharray="3.2,2.8"/>
<circle class="t" cx="1591.3" cy="3320.7" r="18.7" style="stroke-width:1.8" stroke-dasharray="3.2,2.8"/>
<circle class="t" cx="1684.9" cy="3320.7" r="18.7" style="stroke-width:1.8" stroke-dasharray="3.2,2.8"/>
<path class="t" d="M1619.5 3320.7 L1619.5 3349.4 L1656.9 3349.4 L1656.9 3320.7 A18.7 18.7 0 0 0 1619.5 3320.7 Z" style="stroke-width:1.8" stroke-dasharray="3.2,2.8"/>
<polyline class="t" points="1695.3,3226.3 1702.8,3213.6 1713.5,3218.9 1708.9,3226.8" style="stroke-width:1.8"/>
<polyline class="t" points="1503.6,3495.7 1599.1,3479.4 1598,3475.9 1632.9,3467.7 1726.1,3467.7 1754,3474.7 1752.9,3479.4 1776.2,3482.9 1780.1,3496.9 1781.3,3657.6 1776.2,3715.8 1567.2,3715.8 1566.5,3703 1563,3701.8 1561.9,3683.2 1558.4,3680.9 1557.2,3666.9 1552.6,3664.6 1552.6,3649.4" style="stroke-width:1.7"/>
<polyline class="t" points="1780.8,3505 1689.3,3526 1689.3,3559.8 1493.2,3559.8 1493.2,3621.5" style="stroke-width:1.7"/>
<polyline class="t" points="1509.5,3558.6 1509.5,3505 1503.6,3503.9 1503.6,3495.7" style="stroke-width:1.7"/>
<polyline class="t" points="1503.6,3496.9 1483.9,3496.9 1478,3501.5 1458.2,3505 1451.7,3509.7 1450.1,3517.8 1450.1,3615.7 1452.4,3622.2 1457.1,3625.4 1482.7,3627.3 1485,3640.1 1493.2,3641.3 1495.5,3636.6" style="stroke-width:1.7"/>
<polyline class="t" points="1509.5,3506.2 1467.5,3517.8 1461,3523.6 1458.2,3536.5 1460.1,3619.1 1492,3621.5" style="stroke-width:1.7"/>
<rect class="t" x="1496.7" y="3571.4" width="37.3" height="82.7" rx="9" ry="9" style="stroke-width:1.7"/>
<polyline class="t" points="1516.5,3570.2 1532.8,3570.2 1556.1,3579.6 1558.4,3583 1555.6,3643.6 1551.4,3649.4 1530.4,3654.1 1516.5,3655.3" style="stroke-width:1.7"/>
<polyline class="t" points="1558.4,3580.7 1558.4,3652.9 1561.9,3657.6 1608.5,3657.6 1598.4,3676.2 1609.6,3677.4 1631.8,3676.2 1646.9,3668.1 1656.2,3657.6 1780.8,3657.6" style="stroke-width:1.7"/>
<rect class="t" x="1667.9" y="3716.3" width="20.5" height="64.3" style="stroke-width:1.7"/>
<text transform="translate(1372.2,434.8) scale(0.81,0.8432)" font-size="100" stroke-width="1">26</text>
<text transform="translate(1375.8,646) scale(0.81,0.8432)" font-size="100" stroke-width="1">28</text>
<text transform="translate(2312.5,650) scale(0.81,0.8432)" font-size="100" stroke-width="1">27</text>
<text transform="translate(885.5,847.5) scale(0.81,0.8432)" font-size="100" stroke-width="1" clip-path="url(#k11)">11</text>
<text transform="translate(794,1217) scale(0.81,0.8432)" font-size="100" stroke-width="1" clip-path="url(#k15)">15</text>
<text transform="translate(486.5,1493) scale(0.81,0.8432)" font-size="100" stroke-width="1" clip-path="url(#k12)">12</text>
<text transform="translate(799.5,1489) scale(0.81,0.8432)" font-size="100" stroke-width="1" clip-path="url(#k17)">17</text>
<text transform="translate(981.9,1489) scale(0.81,0.8432)" font-size="100" stroke-width="1" clip-path="url(#k16)">16</text>
<text transform="translate(619.5,1759.5) scale(0.81,0.8432)" font-size="100" stroke-width="1">20</text>
<text transform="translate(3657.5,1503.5) scale(0.81,0.8432)" font-size="100" stroke-width="1">22</text>
<text transform="translate(3565.2,1729) scale(0.81,0.8432)" font-size="100" stroke-width="1">23</text>
<text transform="translate(3562.5,1896.4) scale(0.81,0.8432)" font-size="100" stroke-width="1" clip-path="url(#k10)">10</text>
<text transform="translate(3581.2,2202.8) scale(0.81,0.8432)" font-size="100" stroke-width="1">25</text>
<text transform="translate(3669.6,2572.3) scale(0.81,0.8432)" font-size="100" stroke-width="1">8</text>
<text transform="translate(3310.4,3243.8) scale(0.81,0.8432)" font-size="100" stroke-width="1">7</text>
<text transform="translate(3007.2,3286) scale(0.81,0.8432)" font-size="100" stroke-width="1">9</text>
<text transform="translate(2664.6,3552.4) scale(0.81,0.8432)" font-size="100" stroke-width="1" clip-path="url(#k21)">21</text>
<text transform="translate(2050.8,3515) scale(0.81,0.8432)" font-size="100" stroke-width="1" clip-path="url(#k18)">18</text>
<text transform="translate(2347.2,3178.7) scale(0.81,0.8432)" font-size="100" stroke-width="1">20</text>
<text transform="translate(1628.2,3640) scale(0.81,0.8432)" font-size="100" stroke-width="1">5</text>
<text transform="translate(1481,3029.7) scale(0.81,0.8432)" font-size="100" stroke-width="1">4</text>
<text transform="translate(1567.3,3029.7) scale(0.81,0.8432)" font-size="100" stroke-width="1" clip-path="url(#k19)">19</text>
<text transform="translate(1511.9,3101) scale(0.81,0.8432)" font-size="100" stroke-width="1" clip-path="url(#k14)">14</text>
<text transform="translate(1632.6,3101) scale(0.81,0.8432)" font-size="100" stroke-width="1">24</text>
<text transform="translate(778.2,3270.5) scale(0.81,0.8432)" font-size="100" stroke-width="1" clip-path="url(#k13)">13</text>
<text transform="translate(1181.1,3326) scale(0.81,0.8432)" font-size="100" stroke-width="1" clip-path="url(#k1)">1</text>
<text transform="translate(536.2,3025.5) scale(0.81,0.8432)" font-size="100" stroke-width="1">2</text>
<text transform="translate(359,3194.5) scale(0.81,0.8432)" font-size="100" stroke-width="1">3</text>
<text transform="translate(1159.2,900.8) scale(0.66,0.6871)" font-size="100" stroke-width="1.2">GY</text>
<text transform="translate(1162.2,970.2) scale(0.66,0.6871)" font-size="100" stroke-width="1.2">YE</text>
<text transform="translate(572,1237) scale(0.66,0.6871)" font-size="100" stroke-width="1.2">RE</text>
<text transform="translate(2046.4,1022.8) scale(0.66,0.6871)" font-size="100" stroke-width="1.2">OR</text>
<text transform="translate(2045.9,1140.4) scale(0.66,0.6871)" font-size="100" stroke-width="1.2">BL</text>
<text transform="translate(2045.9,1279.6) scale(0.66,0.6871)" font-size="100" stroke-width="1.2">RE</text>
<text transform="translate(2046.1,1663) scale(0.66,0.6871)" font-size="100" stroke-width="1.2">YE</text>
<text transform="translate(3063.1,933.5) scale(0.66,0.6871)" font-size="100" stroke-width="1.2">WH</text>
<text transform="translate(3117.8,1521) scale(0.66,0.6871)" font-size="100" stroke-width="1.2">BK</text>
<text transform="translate(3246.3,1827) scale(0.66,0.6871)" font-size="100" stroke-width="1.2">YE</text>
<text transform="translate(3253.2,2062.5) scale(0.66,0.6871)" font-size="100" stroke-width="1.2">VI</text>
<text transform="translate(3266.7,2317.7) scale(0.66,0.6871)" font-size="100" stroke-width="1.2">GR</text>
<text transform="translate(3276.7,2442) scale(0.66,0.6871)" font-size="100" stroke-width="1.2">BL</text>
<text transform="translate(3131.7,2612.7) scale(0.66,0.6871)" font-size="100" stroke-width="1.2">BL</text>
<text transform="translate(2672.8,2385) scale(0.66,0.6871)" font-size="100" stroke-width="1.2">WH</text>
<text transform="translate(2611.9,2615.8) scale(0.66,0.6871)" font-size="100" stroke-width="1.2">VI</text>
<text transform="translate(2003.3,2440.7) scale(0.66,0.6871)" font-size="100" stroke-width="1.2">VI</text>
<text transform="translate(1212,2154) scale(0.66,0.6871)" font-size="100" stroke-width="1.2">VI</text>
<text transform="translate(1286.1,2254.3) scale(0.66,0.6871)" font-size="100" stroke-width="1.2">RE</text>
<text transform="translate(1007.2,2338.6) scale(0.66,0.6871)" font-size="100" stroke-width="1.2">RE</text>
<text transform="translate(954.7,2508.4) scale(0.66,0.6871)" font-size="100" stroke-width="1.2">GY</text>
<text transform="translate(900.2,2790.6) scale(0.66,0.6871)" font-size="100" stroke-width="1.2">BK</text>
<text transform="translate(1077.7,2770) scale(0.66,0.6871)" font-size="100" stroke-width="1.2">RE</text>
<text transform="translate(1350,2910.7) scale(0.66,0.6871)" font-size="100" stroke-width="1.2">WH</text>
<text transform="translate(2227.5,2923.5) scale(0.66,0.6871)" font-size="100" stroke-width="1.2">BK</text>
<text transform="translate(2512.2,2841.5) scale(0.66,0.6871)" font-size="100" stroke-width="1.2">BK</text>
<text transform="translate(2118.5,3261.5) scale(0.66,0.6871)" font-size="100" stroke-width="1.2">BK</text>
<text transform="translate(2043,3386) scale(0.66,0.6871)" font-size="100" stroke-width="1.2">WH</text>
<text transform="translate(721.2,1529.2) rotate(-90) scale(0.66,0.6871)" font-size="100" stroke-width="1.2">BK</text>
<text transform="translate(438,2267) rotate(-90) scale(0.66,0.6871)" font-size="100" stroke-width="1.2">RE</text>
<text transform="translate(581,2273.2) rotate(-90) scale(0.66,0.6871)" font-size="100" stroke-width="1.2">BK</text>
<text transform="translate(838.3,2267) rotate(-90) scale(0.66,0.6871)" font-size="100" stroke-width="1.2">RE</text>
<text transform="translate(653.2,2638.1) rotate(-90) scale(0.66,0.6871)" font-size="100" stroke-width="1.2">GR</text>
<text transform="translate(458,3082.5) rotate(-90) scale(0.66,0.6871)" font-size="100" stroke-width="1.2">RE</text>
<text transform="translate(1621.8,1591.6) rotate(-90) scale(0.66,0.6871)" font-size="100" stroke-width="1.2">GY</text>
<text transform="translate(1668.4,2278) rotate(-90) scale(0.66,0.6871)" font-size="100" stroke-width="1.2">BR</text>
<text transform="translate(1840.8,2169.3) rotate(-90) scale(0.66,0.6871)" font-size="100" stroke-width="1.2">BK</text>
<text transform="translate(1973.8,2170) rotate(-90) scale(0.66,0.6871)" font-size="100" stroke-width="1.2">OR</text>
<text transform="translate(2501,2071.5) rotate(-90) scale(0.66,0.6871)" font-size="100" stroke-width="1.2">BK</text>
<text transform="translate(2299.3,2651.5) rotate(-90) scale(0.66,0.6871)" font-size="100" stroke-width="1.2">BK</text>
<text transform="translate(2510,2651.5) rotate(-90) scale(0.66,0.6871)" font-size="100" stroke-width="1.2">BK</text>
<text transform="translate(2987.7,2021) rotate(-90) scale(0.66,0.6871)" font-size="100" stroke-width="1.2">BL</text>
<text transform="translate(3144,2022) rotate(-90) scale(0.66,0.6871)" font-size="100" stroke-width="1.2">BL</text>
<text transform="translate(2889.3,2834.5) rotate(-90) scale(0.66,0.6871)" font-size="100" stroke-width="1.2">BL</text>
<text transform="translate(3030.6,2842.5) rotate(-90) scale(0.66,0.6871)" font-size="100" stroke-width="1.2">BL</text>
<text transform="translate(3305.5,2850.3) rotate(-90) scale(0.66,0.6871)" font-size="100" stroke-width="1.2">BR</text>
<text transform="translate(3460.8,2855.6) rotate(-90) scale(0.66,0.6871)" font-size="100" stroke-width="1.2">OR</text>
<text transform="translate(1921,3274.7) rotate(-90) scale(0.66,0.6871)" font-size="100" stroke-width="1.2">WH</text>
<text transform="translate(2664.3,3376.4) rotate(-90) scale(0.66,0.6871)" font-size="100" stroke-width="1.2">GR</text>
<text transform="translate(2788.5,3376.8) rotate(-90) scale(0.66,0.6871)" font-size="100" stroke-width="1.2">BK</text>
<text transform="translate(2885.8,3247.5) rotate(-90) scale(0.66,0.6871)" font-size="100" stroke-width="1.2">VI</text>
<text transform="translate(1381.7,821.4) scale(0.485,0.5049)" font-size="100" stroke-width="1.6" clip-path="url(#k1)">1</text>
<text transform="translate(1419.3,821.4) scale(0.485,0.5049)" font-size="100" stroke-width="1.6">4</text>
<text transform="translate(1482.5,821.4) scale(0.485,0.5049)" font-size="100" stroke-width="1.6">6</text>
<text transform="translate(1530.5,821.4) scale(0.485,0.5049)" font-size="100" stroke-width="1.6">5</text>
<text transform="translate(1587.5,821.4) scale(0.485,0.5049)" font-size="100" stroke-width="1.6">7</text>
<text transform="translate(1635.8,821.4) scale(0.485,0.5049)" font-size="100" stroke-width="1.6">3</text>
<text transform="translate(1684.9,821.4) scale(0.485,0.5049)" font-size="100" stroke-width="1.6">8</text>
<text transform="translate(1722.4,821.4) scale(0.485,0.5049)" font-size="100" stroke-width="1.6" clip-path="url(#k10)">10</text>
<text transform="translate(1786.4,821.4) scale(0.485,0.5049)" font-size="100" stroke-width="1.6" clip-path="url(#k11)">11</text>
<text transform="translate(1835.6,821.4) scale(0.485,0.5049)" font-size="100" stroke-width="1.6" clip-path="url(#k14)">14</text>
<text transform="translate(1900.8,821.4) scale(0.485,0.5049)" font-size="100" stroke-width="1.6">9</text>
<text transform="translate(1942.3,821.4) scale(0.485,0.5049)" font-size="100" stroke-width="1.6" clip-path="url(#k13)">13</text>
<text transform="translate(2015.7,821.4) scale(0.485,0.5049)" font-size="100" stroke-width="1.6">2</text>
<text transform="translate(2060.1,821.4) scale(0.485,0.5049)" font-size="100" stroke-width="1.6" clip-path="url(#k12)">12</text>
<text transform="translate(2249.5,821.4) scale(0.485,0.5049)" font-size="100" stroke-width="1.6">9</text>
<text transform="translate(2295.9,821.4) scale(0.485,0.5049)" font-size="100" stroke-width="1.6">4</text>
<text transform="translate(2348.8,821.4) scale(0.485,0.5049)" font-size="100" stroke-width="1.6">3</text>
<text transform="translate(2398.5,821.4) scale(0.485,0.5049)" font-size="100" stroke-width="1.6">8</text>
<text transform="translate(2449.5,821.4) scale(0.485,0.5049)" font-size="100" stroke-width="1.6">5</text>
<text transform="translate(2509.2,821.4) scale(0.485,0.5049)" font-size="100" stroke-width="1.6" clip-path="url(#k1)">1</text>
<text transform="translate(2545.7,821.4) scale(0.485,0.5049)" font-size="100" stroke-width="1.6" clip-path="url(#k11)">11</text>
<text transform="translate(2611.7,821.4) scale(0.485,0.5049)" font-size="100" stroke-width="1.6">2</text>
<text transform="translate(2651.1,821.4) scale(0.485,0.5049)" font-size="100" stroke-width="1.6" clip-path="url(#k12)">12</text>
<text transform="translate(2722.5,821.4) scale(0.485,0.5049)" font-size="100" stroke-width="1.6">7</text>
<text transform="translate(2762.5,821.4) scale(0.485,0.5049)" font-size="100" stroke-width="1.6">6</text>
<text transform="translate(2807.4,821.4) scale(0.485,0.5049)" font-size="100" stroke-width="1.6" clip-path="url(#k10)">10</text>
<text transform="translate(3505.7,1203.7) scale(0.485,0.5049)" font-size="100" stroke-width="1.6" clip-path="url(#k1)">1</text>
<text transform="translate(3505.7,1255.5) scale(0.485,0.5049)" font-size="100" stroke-width="1.6">2</text>
<text transform="translate(3505.7,1310) scale(0.485,0.5049)" font-size="100" stroke-width="1.6">3</text>
<text transform="translate(3505.7,1361.8) scale(0.485,0.5049)" font-size="100" stroke-width="1.6">8</text>
<text transform="translate(3505.7,1419) scale(0.485,0.5049)" font-size="100" stroke-width="1.6">4</text>
<text transform="translate(3505.7,1469) scale(0.485,0.5049)" font-size="100" stroke-width="1.6">5</text>
<text transform="translate(3505.7,1521.8) scale(0.485,0.5049)" font-size="100" stroke-width="1.6">6</text>
<text transform="translate(3505.7,1579) scale(0.485,0.5049)" font-size="100" stroke-width="1.6">7</text>
<text transform="translate(3512.3,2091) scale(0.485,0.5049)" font-size="100" stroke-width="1.6">2</text>
<text transform="translate(3512.3,2151.5) scale(0.485,0.5049)" font-size="100" stroke-width="1.6" clip-path="url(#k1)">1</text>
<text transform="translate(3510.3,2349.3) scale(0.485,0.5049)" font-size="100" stroke-width="1.6">5</text>
<text transform="translate(3510.3,2406.3) scale(0.485,0.5049)" font-size="100" stroke-width="1.6">4</text>
<text transform="translate(3510.3,2458) scale(0.485,0.5049)" font-size="100" stroke-width="1.6">3</text>
<text transform="translate(3510.3,2507.4) scale(0.485,0.5049)" font-size="100" stroke-width="1.6">2</text>
<text transform="translate(3510.3,2559.1) scale(0.485,0.5049)" font-size="100" stroke-width="1.6" clip-path="url(#k1)">1</text>
<text transform="translate(772.5,3008.4) scale(0.485,0.5049)" font-size="100" stroke-width="1.6">2</text>
<text transform="translate(830.2,3008.4) scale(0.485,0.5049)" font-size="100" stroke-width="1.6" clip-path="url(#k1)">1</text>
<text transform="translate(774.6,3049) scale(0.485,0.5049)" font-size="100" stroke-width="1.6">+</text>
<text transform="translate(837.5,3043.5) scale(0.485,0.5049)" font-size="100" stroke-width="1.6">-</text>
<text transform="translate(1057.6,3005.6) scale(0.495,0.5153)" font-size="100" stroke-width="1.6">L</text>
<text transform="translate(1107.1,3005.6) scale(0.495,0.5153)" font-size="100" stroke-width="1.6">A</text>
<text transform="translate(1159.1,3005.6) scale(0.495,0.5153)" font-size="100" stroke-width="1.6">S</text>
<text transform="translate(1209.7,3005.6) scale(0.495,0.5153)" font-size="100" stroke-width="1.6">B</text>
<text transform="translate(1264.1,3005.6) scale(0.495,0.5153)" font-size="100" stroke-width="1.6">Y</text>
<text transform="translate(1310.4,3005.6) scale(0.495,0.5153)" font-size="100" stroke-width="1.6">M</text>
<text transform="translate(1911.7,2996.8) scale(0.485,0.5049)" font-size="100" stroke-width="1.6" clip-path="url(#k1)">1</text>
<text transform="translate(1982.3,2996.8) scale(0.485,0.5049)" font-size="100" stroke-width="1.6">2</text>
<text transform="translate(1911.7,3055.5) scale(0.485,0.5049)" font-size="100" stroke-width="1.6" clip-path="url(#k1)">1</text>
<text transform="translate(1982.3,3055.5) scale(0.485,0.5049)" font-size="100" stroke-width="1.6">2</text>
<text transform="translate(2670.2,3011.5) scale(0.485,0.5049)" font-size="100" stroke-width="1.6" clip-path="url(#k1)">1</text>
<text transform="translate(2670.2,3127.5) scale(0.485,0.5049)" font-size="100" stroke-width="1.6" clip-path="url(#k1)">1</text>
<text transform="translate(2722.4,3011.5) scale(0.485,0.5049)" font-size="100" stroke-width="1.6">2</text>
<text transform="translate(2722.4,3127.5) scale(0.485,0.5049)" font-size="100" stroke-width="1.6">2</text>
<text transform="translate(2769.8,3011.5) scale(0.485,0.5049)" font-size="100" stroke-width="1.6">3</text>
<text transform="translate(2769.8,3127.5) scale(0.485,0.5049)" font-size="100" stroke-width="1.6">3</text>
<text transform="translate(2816.3,3011.5) scale(0.485,0.5049)" font-size="100" stroke-width="1.6">4</text>
<text transform="translate(2816.3,3127.5) scale(0.485,0.5049)" font-size="100" stroke-width="1.6">4</text>
<text transform="translate(2903.7,3011.7) scale(0.485,0.5049)" font-size="100" stroke-width="1.6">4</text>
<text transform="translate(2961.3,3011.7) scale(0.485,0.5049)" font-size="100" stroke-width="1.6">5</text>
<text transform="translate(3009.8,3011.7) scale(0.485,0.5049)" font-size="100" stroke-width="1.6">3</text>
<text transform="translate(3057.7,3011.7) scale(0.485,0.5049)" font-size="100" stroke-width="1.6">2</text>
<text transform="translate(3112.2,3011.7) scale(0.485,0.5049)" font-size="100" stroke-width="1.6" clip-path="url(#k1)">1</text>
<text transform="translate(3235.2,3011.9) scale(0.485,0.5049)" font-size="100" stroke-width="1.6" clip-path="url(#k1)">1</text>
<text transform="translate(3286.7,3011.9) scale(0.485,0.5049)" font-size="100" stroke-width="1.6">2</text>
<text transform="translate(3334.8,3011.9) scale(0.485,0.5049)" font-size="100" stroke-width="1.6">3</text>
<text transform="translate(3382.3,3011.9) scale(0.485,0.5049)" font-size="100" stroke-width="1.6">4</text>
<text transform="translate(1010,939.6) scale(0.485,0.5049)" font-size="100" stroke-width="1.6" clip-path="url(#k1)">1</text>
<text transform="translate(1010.3,989.9) scale(0.485,0.5049)" font-size="100" stroke-width="1.6">2</text>
<text transform="translate(1496.7,621.6) scale(0.485,0.5049)" font-size="100" stroke-width="1.6" clip-path="url(#k14)">14</text>
<text transform="translate(1527.9,665.6) scale(0.485,0.5049)" font-size="100" stroke-width="1.6">7</text>
<text transform="translate(1854.4,621.6) scale(0.485,0.5049)" font-size="100" stroke-width="1.6">8</text>
<text transform="translate(1854.7,665.6) scale(0.485,0.5049)" font-size="100" stroke-width="1.6" clip-path="url(#k1)">1</text>
<text transform="translate(2417.7,623.7) scale(0.485,0.5049)" font-size="100" stroke-width="1.6" clip-path="url(#k12)">12</text>
<text transform="translate(2445.2,667) scale(0.485,0.5049)" font-size="100" stroke-width="1.6">6</text>
<text transform="translate(2735.6,621.6) scale(0.485,0.5049)" font-size="100" stroke-width="1.6">7</text>
<text transform="translate(2736.7,665.6) scale(0.485,0.5049)" font-size="100" stroke-width="1.6" clip-path="url(#k1)">1</text>
<text transform="translate(897.7,989.9) scale(0.485,0.5049)" font-size="100" stroke-width="1.6">2</text>
<text transform="translate(950.4,989.9) scale(0.485,0.5049)" font-size="100" stroke-width="1.6" clip-path="url(#k1)">1</text>
<text transform="translate(3582.4,1339.3) scale(0.485,0.5049)" font-size="100" stroke-width="1.6">8</text>
<text transform="translate(3580.3,1394.2) scale(0.485,0.5049)" font-size="100" stroke-width="1.6">4</text>
<text transform="translate(3796.8,1349.7) scale(0.485,0.5049)" font-size="100" stroke-width="1.6">5</text>
<text transform="translate(3796.7,1396.8) scale(0.485,0.5049)" font-size="100" stroke-width="1.6" clip-path="url(#k1)">1</text>
<text transform="translate(3587.3,2121.5) scale(0.485,0.5049)" font-size="100" stroke-width="1.6">2</text>
<text transform="translate(3628.3,2121.5) scale(0.485,0.5049)" font-size="100" stroke-width="1.6" clip-path="url(#k1)">1</text>
<text transform="translate(3726.3,2416.7) scale(0.485,0.5049)" font-size="100" stroke-width="1.6">4</text>
<text transform="translate(3725.5,2464.6) scale(0.485,0.5049)" font-size="100" stroke-width="1.6">5</text>
<text transform="translate(3064.7,3120.5) scale(0.485,0.5049)" font-size="100" stroke-width="1.6">4</text>
<text transform="translate(3064.5,3166) scale(0.485,0.5049)" font-size="100" stroke-width="1.6">5</text>
<text transform="translate(3256.2,3158.3) scale(0.485,0.5049)" font-size="100" stroke-width="1.6" clip-path="url(#k1)">1</text>
<text transform="translate(3292.7,3158.3) scale(0.485,0.5049)" font-size="100" stroke-width="1.6">2</text>
<text transform="translate(3330.1,3158.3) scale(0.485,0.5049)" font-size="100" stroke-width="1.6">3</text>
<text transform="translate(3365.3,3158.3) scale(0.485,0.5049)" font-size="100" stroke-width="1.6">4</text>
<text transform="translate(2050.7,2994.4) scale(0.485,0.5049)" font-size="100" stroke-width="1.6">2</text>
<text transform="translate(2091.7,2994.4) scale(0.485,0.5049)" font-size="100" stroke-width="1.6" clip-path="url(#k1)">1</text>
<text transform="translate(2061.5,3136.2) scale(0.485,0.5049)" font-size="100" stroke-width="1.6">2</text>
<text transform="translate(2099.5,3136.2) scale(0.485,0.5049)" font-size="100" stroke-width="1.6" clip-path="url(#k1)">1</text>
<text transform="translate(2500.3,2950.5) scale(0.485,0.5049)" font-size="100" stroke-width="1.6">4</text>
<text transform="translate(2500.9,2993.6) scale(0.485,0.5049)" font-size="100" stroke-width="1.6">3</text>
<text transform="translate(2587.9,2954) scale(0.485,0.5049)" font-size="100" stroke-width="1.6" clip-path="url(#k1)">1</text>
<text transform="translate(2587.3,2996) scale(0.485,0.5049)" font-size="100" stroke-width="1.6">2</text>
<text transform="translate(2502.1,3151.3) scale(0.485,0.5049)" font-size="100" stroke-width="1.6">4</text>
<text transform="translate(2502.9,3193.7) scale(0.485,0.5049)" font-size="100" stroke-width="1.6">3</text>
<text transform="translate(2590.7,3155.7) scale(0.485,0.5049)" font-size="100" stroke-width="1.6" clip-path="url(#k1)">1</text>
<text transform="translate(2589.6,3196.5) scale(0.485,0.5049)" font-size="100" stroke-width="1.6">2</text>
<text transform="translate(782.3,3144) scale(0.485,0.5049)" font-size="100" stroke-width="1.6">2</text>
<text transform="translate(832.4,3147) scale(0.485,0.5049)" font-size="100" stroke-width="1.6" clip-path="url(#k1)">1</text>
<text transform="translate(1138.5,3086.8) scale(0.485,0.5049)" font-size="100" stroke-width="1.6">B</text>
<text transform="translate(1182.7,3086.8) scale(0.485,0.5049)" font-size="100" stroke-width="1.6">L</text>
<text transform="translate(1221.3,3086.8) scale(0.485,0.5049)" font-size="100" stroke-width="1.6">M</text>
<text transform="translate(1125.3,3188.5) scale(0.485,0.5049)" font-size="100" stroke-width="1.6">S</text>
<text transform="translate(1186.8,3205.2) scale(0.485,0.5049)" font-size="100" stroke-width="1.6">A</text>
<text transform="translate(1255.6,3178.4) scale(0.485,0.5049)" font-size="100" stroke-width="1.6">Y</text>
<text transform="translate(1608.7,3190.4) scale(0.485,0.5049)" font-size="100" stroke-width="1.6" clip-path="url(#k19)">19</text>
<text transform="translate(1560.3,3219.9) scale(0.485,0.5049)" font-size="100" stroke-width="1.6" clip-path="url(#k14)">14</text>
<text transform="translate(1672.3,3219.9) scale(0.485,0.5049)" font-size="100" stroke-width="1.6">4</text>
<text transform="translate(1610.3,3428.4) scale(0.485,0.5049)" font-size="100" stroke-width="1.6">24</text>
</g>
<text class="wm" transform="translate(1284.5,2973.6) rotate(-48)"><tspan x="-4.3" font-size="408">H</tspan><tspan x="287.9 508 728.2 948.2" font-size="389">obby</tspan><tspan x="1140.4" font-size="408">S</tspan><tspan x="1409.5 1520.6 1740 1872.7 2091.9 2201.7 2289.9" font-size="389">tore.it</tspan></text>
</svg>
</body></html>
